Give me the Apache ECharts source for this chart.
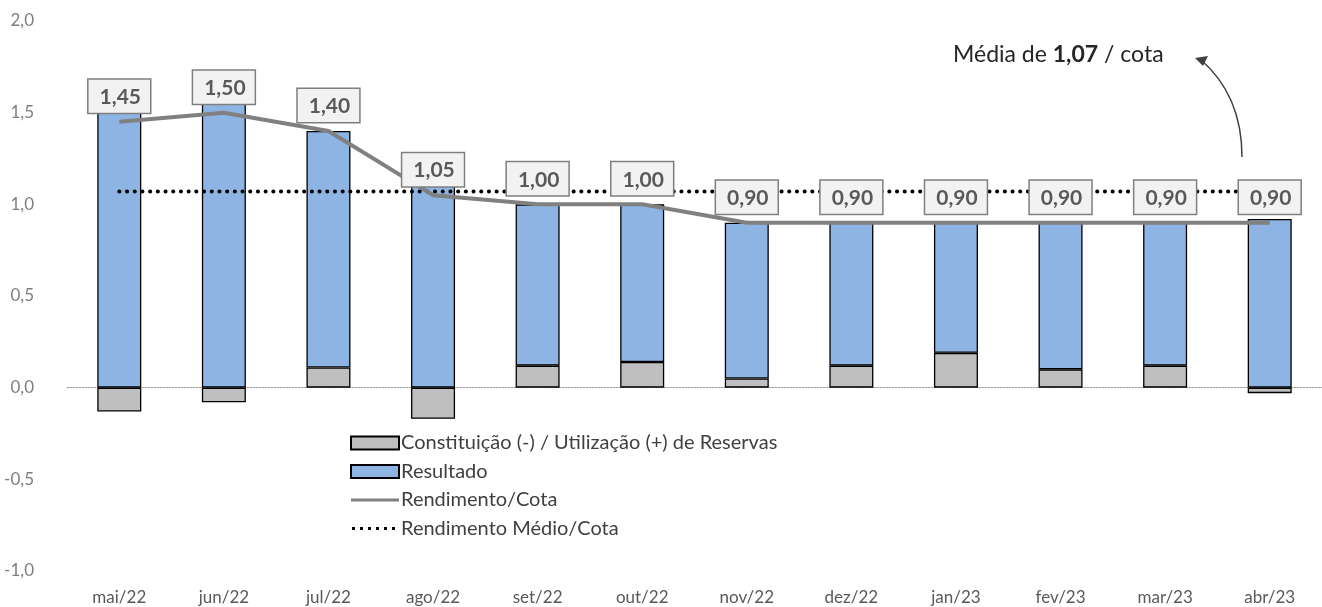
<!DOCTYPE html>
<html>
<head>
<meta charset="utf-8">
<script src="https://cdn.jsdelivr.net/npm/echarts@6/dist/echarts.min.js"></script>
<style>
  html, body { margin: 0; padding: 0; background: #fff; }
  #chart { width: 1322px; height: 607px; }
</style>
</head>
<body>
<div id="chart"></div>
<script>
// dados
var meses = ['mai/22', 'jun/22', 'jul/22', 'ago/22', 'set/22', 'out/22', 'nov/22', 'dez/22', 'jan/23', 'fev/23', 'mar/23', 'abr/23'];
var reservas = [-0.13, -0.08, 0.11, -0.17, 0.12, 0.14, 0.05, 0.12, 0.19, 0.10, 0.12, -0.03];
var resultado = [1.58, 1.58, 1.29, 1.22, 0.88, 0.86, 0.85, 0.78, 0.71, 0.80, 0.78, 0.92];
var rendimento = [1.45, 1.50, 1.40, 1.05, 1.00, 1.00, 0.90, 0.90, 0.90, 0.90, 0.90, 0.90];
var rendMedio = [1.07, 1.07, 1.07, 1.07, 1.07, 1.07, 1.07, 1.07, 1.07, 1.07, 1.07, 1.07];
var yTicks = [-1.0, -0.5, 0.0, 0.5, 1.0, 1.5, 2.0];

var fonte = 'Lato, "Noto Sans", sans-serif';
function virgula(v, d) { return v.toFixed(d).replace('.', ','); }

// ícones da legenda para as linhas (caixa de 48x13, traço no meio)
var iconeLinha = 'path://M0,0 L0,0 Z M0,5 L48,5 L48,8 L0,8 Z M48,13 L48,13 Z';
var iconePontos = 'path://M0,0 L0,0 Z';
for (var i = 0; i < 6; i++) {
    var x = 1 + i * 8;
    iconePontos += ' M' + x + ',5 L' + (x + 3) + ',5 L' + (x + 3) + ',8 L' + x + ',8 Z';
}
iconePontos += ' M48,13 L48,13 Z';

var chart = echarts.init(document.getElementById('chart'));

var option = {
    animation: false,
    textStyle: { fontFamily: fonte },
    grid: { left: 67, right: -8, top: 21, bottom: 36 },
    legend: {
        orient: 'vertical',
        left: 345,
        top: 428,
        itemWidth: 48,
        itemHeight: 13,
        itemGap: 8.5,
        textStyle: { fontSize: 20, color: '#404040', padding: [0, 0, 0, -3] },
        data: [
            { name: 'Constituição (-) / Utilização (+) de Reservas', icon: 'rect' },
            { name: 'Resultado', icon: 'rect' },
            { name: 'Rendimento/Cota', icon: iconeLinha, itemStyle: { color: '#808080' } },
            { name: 'Rendimento Médio/Cota', icon: iconePontos, itemStyle: { color: '#000' } }
        ]
    },
    xAxis: {
        type: 'category',
        data: meses,
        axisTick: { show: false },
        axisLine: { show: true, onZero: true, lineStyle: { color: '#999', width: 1, type: [1.5, 1.5] } },
        axisLabel: { fontSize: 17, color: '#595959', margin: 18 }
    },
    yAxis: {
        type: 'value',
        min: -1,
        max: 2,
        interval: 0.5,
        splitLine: { show: false },
        axisLine: { show: false },
        axisTick: { show: false },
        axisLabel: {
            fontSize: 17,
            color: '#7f7f7f',
            margin: 33,
            formatter: function (v) {
                var t = yTicks.find(function (k) { return Math.abs(k - v) < 1e-9; });
                return virgula(t === undefined ? v : t, 1);
            }
        }
    },
    series: [
        {
            name: 'Constituição (-) / Utilização (+) de Reservas',
            type: 'bar',
            stack: 'total',
            barWidth: 44,
            data: reservas,
            itemStyle: { color: '#bfbfbf', borderColor: '#000', borderWidth: 1.3 }
        },
        {
            name: 'Resultado',
            type: 'bar',
            stack: 'total',
            barWidth: 44,
            data: resultado,
            itemStyle: { color: '#8eb4e3', borderColor: '#000', borderWidth: 1.3 }
        },
        {
            name: 'Rendimento/Cota',
            type: 'line',
            data: rendimento,
            symbol: 'none',
            z: 5,
            lineStyle: { color: '#808080', width: 4 },
            itemStyle: { color: '#808080' }
        },
        {
            name: 'Rendimento Médio/Cota',
            type: 'line',
            data: rendMedio,
            symbol: 'none',
            z: 4,
            lineStyle: { color: '#000', width: 4, type: [0.1, 7.6], cap: 'round' },
            itemStyle: { color: '#000' }
        },
        {
            // rótulos dos valores de rendimento
            name: 'rotulos',
            type: 'scatter',
            data: rendimento,
            symbolSize: 0,
            z: 10,
            itemStyle: { color: '#808080', opacity: 1 },
            label: {
                show: true,
                opacity: 1,
                position: 'top',
                distance: 9,
                formatter: function (p) { return virgula(p.value, 2); },
                fontSize: 21,
                fontWeight: 'bold',
                color: '#595959',
                backgroundColor: '#f2f2f2',
                borderColor: '#7f7f7f',
                borderWidth: 1.5,
                padding: [7, 9, 5, 11]
            }
        }
    ],
    graphic: [
        {
            type: 'text',
            left: 953,
            top: 43,
            style: {
                text: 'Média de {b|1,07} / cota',
                fontSize: 23,
                fontFamily: fonte,
                fill: '#262626',
                rich: {
                    b: { fontSize: 23, fontWeight: 'bold', fontFamily: fonte, fill: '#262626' }
                }
            }
        },
        {
            type: 'bezierCurve',
            shape: { x1: 1242, y1: 157, x2: 1200, y2: 59, cpx1: 1242, cpy1: 95 },
            style: { stroke: '#404040', lineWidth: 1.5, fill: null }
        },
        {
            type: 'polygon',
            shape: { points: [[1195, 58], [1208, 56], [1203, 66]] },
            style: { fill: '#404040' }
        }
    ]
};

chart.setOption(option);
</script>
</body>
</html>
